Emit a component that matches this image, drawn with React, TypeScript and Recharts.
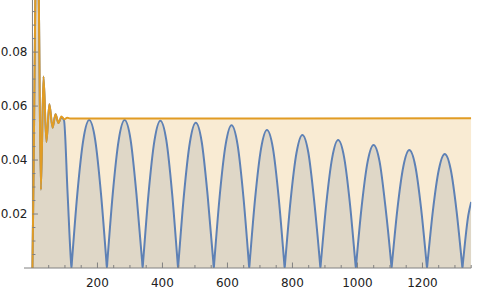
import React from 'react';
import { ComposedChart, Area, Line, XAxis, YAxis, ReferenceLine } from 'recharts';

// Blue series: [x, y] points (it runs under the orange curve until x ≈ 97)
const bluePoints: [number, number][] = [
  [0, 0], [3, 0.03], [8, 0.09], [14, 0.15], [20, 0.095], [26, 0.029], [34, 0.071], [43, 0.0467],
  [52, 0.0607], [62, 0.052], [71, 0.057], [80, 0.0537], [89, 0.0558],
  [97, 0.0548], [108, 0.028], [118.5, 0.0024], [120, 0],
  [121.5, 0.0024], [138, 0.0274], [156.5, 0.0475], [174.5, 0.0548], [193, 0.0475], [211, 0.0274], [227.5, 0.0024], [229, 0],
  [230.5, 0.0024], [247, 0.0274], [265.5, 0.0475], [283.5, 0.0548], [302, 0.0475], [320, 0.0274], [337.5, 0.0024], [339, 0],
  [340.5, 0.0023], [357, 0.0273], [375.5, 0.0473], [393.5, 0.0546], [412, 0.0473], [430, 0.0273], [446.5, 0.0023], [448, 0],
  [449.5, 0.0023], [466, 0.0269], [484.5, 0.0466], [502.5, 0.0538], [521, 0.0466], [539, 0.0269], [556.5, 0.0023], [558, 0],
  [559.5, 0.0023], [576, 0.0265], [594.5, 0.0458], [612.5, 0.0529], [631, 0.0458], [649, 0.0265], [665.5, 0.0023], [667, 0],
  [668.5, 0.0022], [685, 0.0256], [703.5, 0.0443], [721.5, 0.0511], [740, 0.0443], [758, 0.0256], [774.5, 0.0022], [776, 0],
  [777.5, 0.0021], [794, 0.0247], [812.5, 0.0427], [830.5, 0.0493], [849, 0.0427], [867, 0.0247], [884.5, 0.0021], [886, 0],
  [887.5, 0.002], [904, 0.0237], [922.5, 0.041], [940.5, 0.0474], [959, 0.041], [977, 0.0237], [993.5, 0.002], [995, 0],
  [996.5, 0.002], [1013, 0.0228], [1031.5, 0.0395], [1049.5, 0.0456], [1068, 0.0395], [1086, 0.0228], [1103.5, 0.002], [1105, 0],
  [1106.5, 0.0019], [1123, 0.0219], [1141.5, 0.0378], [1159.5, 0.0437], [1178, 0.0378], [1196, 0.0219], [1212.5, 0.0019], [1214, 0],
  [1215.5, 0.0018], [1232, 0.0211], [1250.5, 0.0365], [1268.5, 0.0422], [1287, 0.0365], [1305, 0.0211], [1321.5, 0.0018], [1323, 0],
  [1324.5, 0.0018], [1341, 0.0195], [1350, 0.0245],
];

// Orange series: [x, y] points
const orangePoints: [number, number][] = [
  [0, 0], [3, 0.03], [8, 0.09], [14, 0.15], [20, 0.095], [26, 0.029], [34, 0.071], [43, 0.0467],
  [52, 0.0607], [62, 0.052], [71, 0.057], [80, 0.0537], [89, 0.0561], [98, 0.0551], [107, 0.0557],
  [116, 0.0554], [1350, 0.0555],
];

const xTickValues = [
  50, 100, 150, 200, 250, 300, 350, 400, 450, 500, 550, 600, 650, 700, 750, 800, 850, 900, 950,
  1000, 1050, 1100, 1150, 1200, 1250, 1300, 1350,
];
const xLabelValues = [200, 400, 600, 800, 1000, 1200];
const yTickValues = [
  0.005, 0.01, 0.015, 0.02, 0.025, 0.03, 0.035, 0.04, 0.045, 0.05, 0.055, 0.06, 0.065, 0.07,
  0.075, 0.08, 0.085, 0.09, 0.095,
];
const yLabelValues = [0.02, 0.04, 0.06, 0.08];
const yLabelTexts = ['0.02', '0.04', '0.06', '0.08'];

const blueData = bluePoints.map(([x, y]) => ({ x, y }));
const orangeData = orangePoints.map(([x, y]) => ({ x, y }));

const AXIS = '#808080';
const TEXT = '#222222';
const FONT = 'DejaVu Sans';
const BLUE = '#5E81B5';
const ORANGE = '#E19C24';
const Y_AXIS_OFFSET = 8.45; // from plot left edge to x = 0

const XTick = (props: any) => {
  const { x, y, payload } = props;
  const v = payload.value;
  const major = xLabelValues.includes(v);
  return (
    <g>
      <line x1={x} x2={x} y1={y} y2={y - (major ? 5.5 : 3)} stroke={AXIS} strokeWidth={1} />
      {major && (
        <text x={x} y={y + 18.5} textAnchor="middle" fontSize={12} fontFamily={FONT} fill={TEXT}>
          {v}
        </text>
      )}
    </g>
  );
};

const YTick = (props: any) => {
  const { x, y, payload } = props;
  const v = payload.value;
  const idx = yLabelValues.findIndex((m) => Math.abs(m - v) < 1e-9);
  const major = idx >= 0;
  const ax = x + Y_AXIS_OFFSET;
  return (
    <g>
      <line x1={ax} x2={ax + (major ? 5.5 : 3)} y1={y} y2={y} stroke={AXIS} strokeWidth={1} />
      {major && (
        <text x={ax - 5} y={y + 4.3} textAnchor="end" fontSize={12} fontFamily={FONT} fill={TEXT}>
          {yLabelTexts[idx]}
        </text>
      )}
    </g>
  );
};

export default function App() {
  return (
    <div style={{ position: 'absolute', left: 0, top: 0, width: 480, height: 290, background: '#fff' }}>
      <ComposedChart width={480} height={290} margin={{ top: 0, right: 8.8, bottom: 0, left: 0 }}>
        <XAxis
          type="number"
          dataKey="x"
          domain={[-26, 1350]}
          allowDataOverflow
          ticks={xTickValues}
          interval={0}
          height={22}
          tickSize={0}
          tickMargin={0}
          tickLine={false}
          axisLine={{ stroke: AXIS, strokeWidth: 1 }}
          tick={<XTick />}
        />
        <YAxis
          type="number"
          dataKey="y"
          domain={[0, 0.0993]}
          allowDataOverflow
          ticks={yTickValues}
          interval={0}
          width={24}
          tickSize={0}
          tickMargin={0}
          tickLine={false}
          axisLine={false}
          tick={<YTick />}
        />
        <Area
          data={blueData}
          dataKey="y"
          type="monotone"
          stroke="none"
          fill={BLUE}
          fillOpacity={0.2}
          isAnimationActive={false}
        />
        <Area
          data={orangeData}
          dataKey="y"
          type="monotone"
          stroke="none"
          fill={ORANGE}
          fillOpacity={0.2}
          isAnimationActive={false}
        />
        <ReferenceLine x={0} stroke={AXIS} strokeWidth={1} />
        <Line
          data={blueData}
          dataKey="y"
          type="monotone"
          stroke={BLUE}
          strokeWidth={2}
          dot={false}
          isAnimationActive={false}
        />
        <Line
          data={orangeData}
          dataKey="y"
          type="monotone"
          stroke={ORANGE}
          strokeWidth={2}
          dot={false}
          isAnimationActive={false}
        />
      </ComposedChart>
    </div>
  );
}
